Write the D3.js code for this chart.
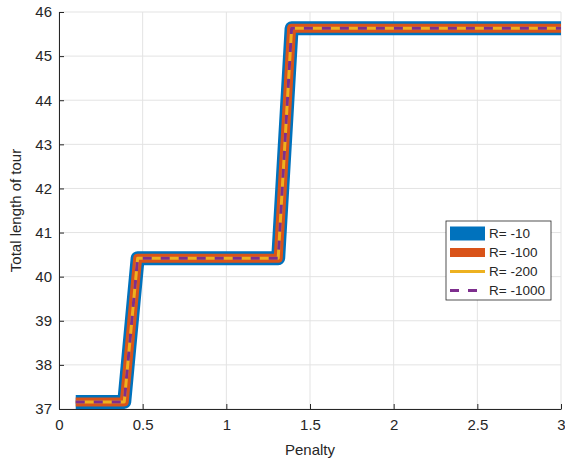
<!DOCTYPE html>
<html>
<head>
<meta charset="utf-8">
<script src="https://cdn.jsdelivr.net/npm/d3@7"></script>
<style>
  body { margin: 0; background: #fff; }
  text { font-family: "Liberation Sans", Arial, sans-serif; fill: #262626; }
</style>
</head>
<body>
<div class="chart"></div>
<script>
// data
const penalty = [0.1, 0.39, 0.47, 1.31, 1.39, 3.0]
const tourLength = [37.16, 37.16, 40.42, 40.42, 45.63, 45.63]
const seriesNames = ["R= -10", "R= -100", "R= -200", "R= -1000"]
const xTicks = [0, 0.5, 1, 1.5, 2, 2.5, 3]
const yTicks = [37, 38, 39, 40, 41, 42, 43, 44, 45, 46]

const styles = [
    { color: "#0072BD", width: 14, dash: null },
    { color: "#D95319", width: 9, dash: null },
    { color: "#EDB120", width: 3, dash: null },
    { color: "#7E2F8E", width: 3, dash: "9,9" }
]

const margin = ({ top: 12, right: 4, bottom: 53, left: 59 })
const width = 565 - margin.left - margin.right,
    height = 462 - margin.top - margin.bottom;

let svg = d3.select(".chart").append("svg")
    .attr("width", 565)
    .attr("height", 462)
    .append("g")
    .attr("transform", "translate(" + margin.left + "," + margin.top + ")");

let xScale = d3.scaleLinear().domain([0, 3]).range([0, width])
let yScale = d3.scaleLinear().domain([37, 46]).range([height, 0])

// grid
svg.append("g").selectAll("line").data(xTicks).join("line")
    .attr("x1", d => xScale(d)).attr("x2", d => xScale(d))
    .attr("y1", 0).attr("y2", height)
    .attr("stroke", "#e3e3e3")
svg.append("g").selectAll("line").data(yTicks).join("line")
    .attr("y1", d => yScale(d)).attr("y2", d => yScale(d))
    .attr("x1", 0).attr("x2", width)
    .attr("stroke", "#e3e3e3")

// lines
let data = penalty.map((p, i) => ({ x: p, y: tourLength[i] }))
let line = d3.line().x(d => xScale(d.x)).y(d => yScale(d.y))

styles.forEach(s => {
    svg.append("path")
        .datum(data)
        .attr("fill", "none")
        .attr("stroke", s.color)
        .attr("stroke-width", s.width)
        .attr("stroke-linejoin", "round")
        .attr("stroke-dasharray", s.dash)
        .attr("d", line)
})

// axes
let xAxis = d3.axisBottom(xScale).tickValues(xTicks).tickSizeInner(-5).tickSizeOuter(0).tickPadding(10)
    .tickFormat(d3.format("~g"))
let yAxis = d3.axisLeft(yScale).tickValues(yTicks).tickSizeInner(-5).tickSizeOuter(0).tickPadding(7)

svg.append("g")
    .attr("class", "axis x-axis")
    .attr("transform", `translate(0, ${height})`)
    .call(xAxis)
svg.append("g")
    .attr("class", "axis y-axis")
    .call(yAxis)

svg.selectAll(".axis path").attr("stroke", "#262626")
svg.selectAll(".axis line").attr("stroke", "#262626")
svg.selectAll(".axis text").attr("font-size", 15).attr("fill", "#262626")
    .attr("font-family", "Liberation Sans, Arial, sans-serif")

svg.append("text")
    .attr("x", width / 2).attr("y", height + 46)
    .attr("text-anchor", "middle")
    .attr("font-size", 15)
    .text("Penalty")

svg.append("text")
    .attr("transform", `translate(${-38}, ${height / 2}) rotate(-90)`)
    .attr("text-anchor", "middle")
    .attr("font-size", 15)
    .text("Total length of tour")

// legend
let legend = svg.append("g").attr("transform", `translate(${446 - margin.left}, ${221 - margin.top})`)
legend.append("rect")
    .attr("width", 105).attr("height", 79)
    .attr("fill", "#fff").attr("stroke", "#262626").attr("stroke-width", 0.8)

let entries = legend.selectAll("g.entry").data(seriesNames).join("g")
    .attr("class", "entry")
    .attr("transform", (d, i) => `translate(0, ${12.5 + i * 19})`)

entries.append("line")
    .attr("x1", 4).attr("x2", 39)
    .attr("stroke", (d, i) => styles[i].color)
    .attr("stroke-width", (d, i) => styles[i].width)
    .attr("stroke-dasharray", (d, i) => styles[i].dash)

entries.append("text")
    .attr("x", 43).attr("dy", "0.35em")
    .attr("font-size", 13.5)
    .text(d => d)
</script>
</body>
</html>
